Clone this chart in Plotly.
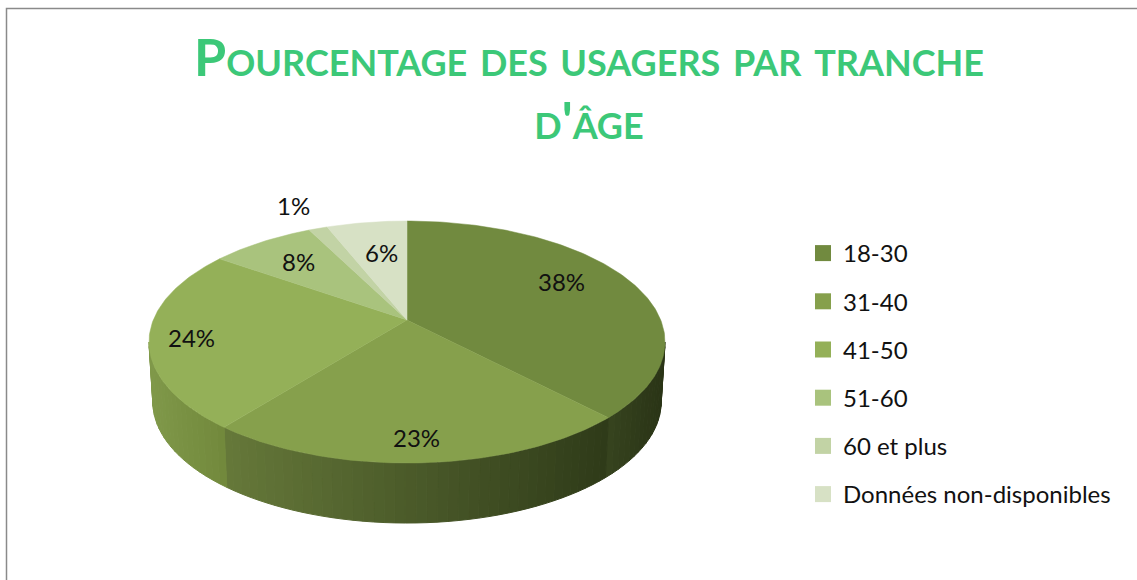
import numpy as np
import plotly.graph_objects as go

categories = ["18-30", "31-40", "41-50", "51-60", "60 et plus", "Données non-disponibles"]
values = [37.9, 22.7, 24.2, 7.8, 1.4, 6.0]
labels = ["38%", "23%", "24%", "8%", "1%", "6%"]
colors = ["#718A3F", "#86A04C", "#94B058", "#A9C37D", "#C2D3A5", "#D7E1C5"]
# wall shading: colour at the left and right ends of each visible wall
wall_left = {0: "#37441F", 1: "#66793A", 2: "#80994A"}
wall_right = {0: "#2A3416", 1: "#2F3B19", 2: "#72893C"}
label_x = [561, 416, 191, 298, 293, 381]
label_y = [281, 437, 337, 261, 205, 252]

W, H = 1137, 580
CX, CY = 407, 320
K, A = 0.182, 117
B = 253.7
DEPTH = 60
BASE_SCALE = 0.985
TEXT = "#111111"
FONT = "Lato"


def rim(theta, base=False):
    u, v = np.sin(theta), np.cos(theta)
    d = 1 + K * v
    x = B * u / d
    y = -A * v / d
    if base:
        return CX + x * BASE_SCALE, CY + y + DEPTH
    return CX + x, CY + y


def hex2rgb(c):
    return np.array([int(c[i:i + 2], 16) for i in (1, 3, 5)], float)


def mix(c1, c2, t):
    r = hex2rgb(c1) * (1 - t) + hex2rgb(c2) * t
    return "rgb(%d,%d,%d)" % tuple(r)


fig = go.Figure()

edges = np.cumsum([0] + values) / sum(values) * 2 * np.pi
th_right = np.arccos(-K)
th_left = 2 * np.pi - th_right

# walls
for i in range(3):
    a = max(edges[i], th_right)
    b = min(edges[i + 1], th_left)
    xa, xb = rim(a)[0], rim(b)[0]
    steps = np.linspace(a, b, max(4, int((b - a) * 30)))
    for t0, t1 in zip(steps[:-1], steps[1:]):
        arc = np.linspace(t0, t1, 4)
        tx, ty = rim(arc)
        bx, by = rim(arc, True)
        xs = np.r_[tx, bx[::-1], tx[0]]
        ys = np.r_[ty, by[::-1], ty[0]]
        xm = rim((t0 + t1) / 2)[0]
        f = (xm - min(xa, xb)) / abs(xa - xb)
        col = mix(wall_left[i], wall_right[i], f)
        fig.add_trace(go.Scatter(x=xs, y=ys, mode="lines", fill="toself", fillcolor=col,
                                 line=dict(color=col, width=1), showlegend=False, hoverinfo="skip"))

# top face
for i, cat in enumerate(categories):
    arc = np.linspace(edges[i], edges[i + 1], max(8, int((edges[i + 1] - edges[i]) * 60)))
    x, y = rim(arc)
    fig.add_trace(go.Scatter(x=np.r_[CX, x, CX], y=np.r_[CY, y, CY], mode="lines", fill="toself",
                             fillcolor=colors[i], line=dict(color=colors[i], width=0.5),
                             name=cat, showlegend=False, hoverinfo="name"))

# legend entries
for i, cat in enumerate(categories):
    fig.add_trace(go.Scatter(x=[None], y=[None], mode="markers", name=cat, legendgroup=cat,
                             marker=dict(symbol="square", size=16, color=colors[i])))

for s, lx, ly in zip(labels, label_x, label_y):
    fig.add_annotation(x=lx, y=ly, text=s, showarrow=False, xref="x", yref="y",
                       font=dict(family=FONT, size=24, color=TEXT))

fig.add_shape(type="path", path=f"M 6.5 {H} L 6.5 8.5 L {W} 8.5", xref="x", yref="y",
              line=dict(color="#8A8A8A", width=1.5))

big = '<span style="font-size:52px">%s</span>'
fig.update_layout(
    width=W, height=H,
    margin=dict(l=0, r=0, t=0, b=0),
    paper_bgcolor="white", plot_bgcolor="white",
    xaxis=dict(range=[0, W], visible=False, domain=[0, 1], fixedrange=True),
    yaxis=dict(range=[H, 0], visible=False, domain=[0, 1], fixedrange=True),
    title=dict(text=big % "Pourcentage des usagers par tranche" + "<br>" + big % "d'âge",
               x=589 / W, xanchor="center", xref="paper",
               y=1 - 76 / H, yanchor="bottom", yref="paper",
               font=dict(family=FONT, size=48.5, color="#3CC878", weight="bold", variant="small-caps")),
    legend=dict(x=803 / W, y=1 - 231 / H, xanchor="left", yanchor="top",
                font=dict(family=FONT, size=24, color=TEXT),
                tracegroupgap=14, bgcolor="rgba(0,0,0,0)", itemclick=False, itemdoubleclick=False),
    showlegend=True,
)

fig.write_html("out.html", config=dict(displayModeBar=False),
               post_script="document.body.style.margin='0';document.documentElement.style.overflow='hidden';")
